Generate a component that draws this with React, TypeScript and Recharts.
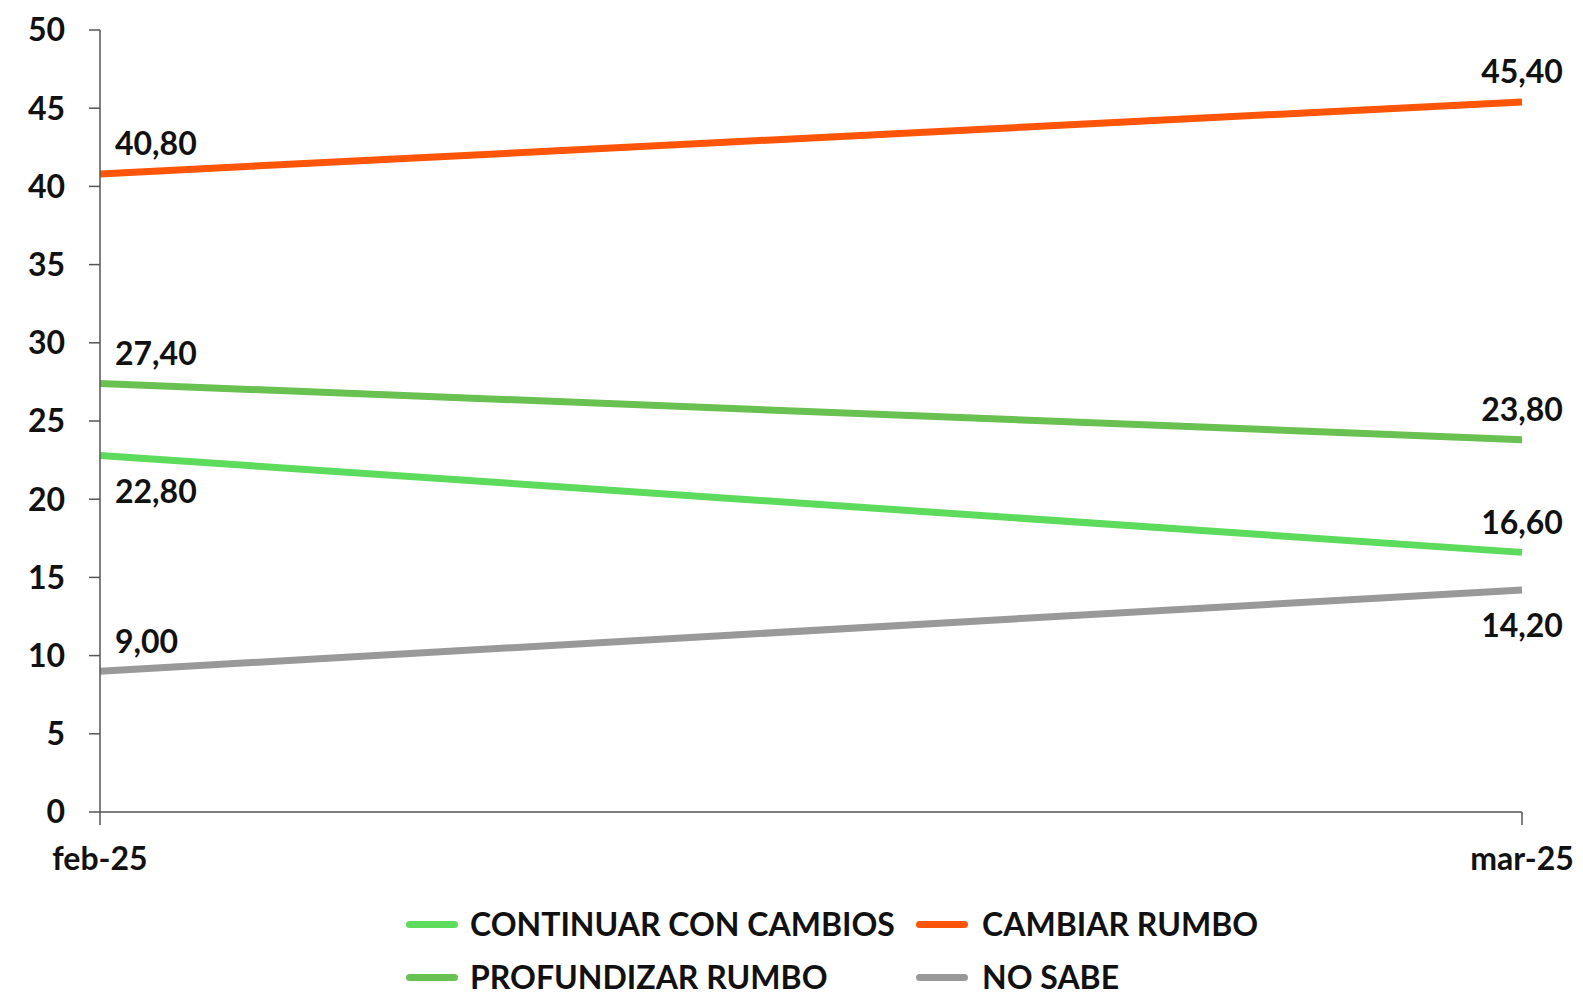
import React from "react";
import { LineChart, Line, XAxis, YAxis, LabelList } from "recharts";

const categories = ["feb-25", "mar-25"];
const continuar = [22.8, 16.6];
const cambiar = [40.8, 45.4];
const profundizar = [27.4, 23.8];
const noSabe = [9.0, 14.2];
const yTicks = [0, 5, 10, 15, 20, 25, 30, 35, 40, 45, 50];

const data = categories.map((name, i) => ({
  name,
  continuar: continuar[i],
  cambiar: cambiar[i],
  profundizar: profundizar[i],
  noSabe: noSabe[i],
}));

// label placement per point: "up" or "down"
const series = [
  { key: "continuar", name: "CONTINUAR CON CAMBIOS", color: "#5cdb5c", place: ["down", "up"] },
  { key: "cambiar", name: "CAMBIAR RUMBO", color: "#ff5508", place: ["up", "up"] },
  { key: "profundizar", name: "PROFUNDIZAR RUMBO", color: "#68c150", place: ["up", "up"] },
  { key: "noSabe", name: "NO SABE", color: "#999999", place: ["up", "down"] },
];

const FONT = "Lato, 'Open Sans', sans-serif";
const FS = 32;

const fmt = (v: number) => v.toFixed(2).replace(".", ",");

const makeLabel = (place: string[]) => (props: any) => {
  const { x, y, value, index } = props;
  const first = index === 0;
  const up = place[index] === "up";
  return (
    <text
      x={first ? x + 15 : x}
      y={up ? y - 31 : y + 35}
      textAnchor={first ? "start" : "middle"}
      dominantBaseline="central"
      fontFamily={FONT}
      fontWeight={700}
      fontSize={FS}
      fill="#111"
    >
      {fmt(value)}
    </text>
  );
};

export default function App() {
  return (
    <div style={{ position: "absolute", left: 0, top: 0, width: 1583, height: 993, background: "#fff" }}>
      <LineChart
        width={1583}
        height={993}
        data={data}
        margin={{ top: 30, right: 61, bottom: 121, left: 0 }}
      >
        <XAxis
          dataKey="name"
          stroke="#555"
          strokeWidth={1.5}
          tickSize={13}
          tickMargin={22}
          tick={{ fontFamily: FONT, fontWeight: 700, fontSize: FS, fill: "#111" }}
          height={60}
          interval={0}
        />
        <YAxis
          domain={[0, 50]}
          ticks={yTicks}
          width={100}
          stroke="#555"
          strokeWidth={1.5}
          tickSize={11}
          tickMargin={24}
          tick={{ fontFamily: FONT, fontWeight: 700, fontSize: FS, fill: "#111" }}
          interval={0}
        />
        {series.map((s) => (
          <Line
            key={s.key}
            dataKey={s.key}
            name={s.name}
            stroke={s.color}
            strokeWidth={7}
            dot={false}
            activeDot={false}
            isAnimationActive={false}
          >
            <LabelList dataKey={s.key} content={makeLabel(s.place)} />
          </Line>
        ))}
      </LineChart>
      {series.map((s, i) => {
        const col = i % 2;
        const row = Math.floor(i / 2);
        const cy = row === 0 ? 924 : 977;
        const iconX = col === 0 ? 406 : 916;
        const textX = col === 0 ? 470 : 982;
        return (
          <React.Fragment key={s.key}>
            <div
              style={{
                position: "absolute",
                left: iconX,
                top: cy - 3.5,
                width: 52,
                height: 7,
                borderRadius: 4,
                background: s.color,
              }}
            />
            <div
              style={{
                position: "absolute",
                left: textX,
                top: cy - 20,
                height: 40,
                lineHeight: "40px",
                fontFamily: FONT,
                fontWeight: 700,
                fontSize: FS,
                color: "#111",
                whiteSpace: "nowrap",
              }}
            >
              {s.name}
            </div>
          </React.Fragment>
        );
      })}
    </div>
  );
}
